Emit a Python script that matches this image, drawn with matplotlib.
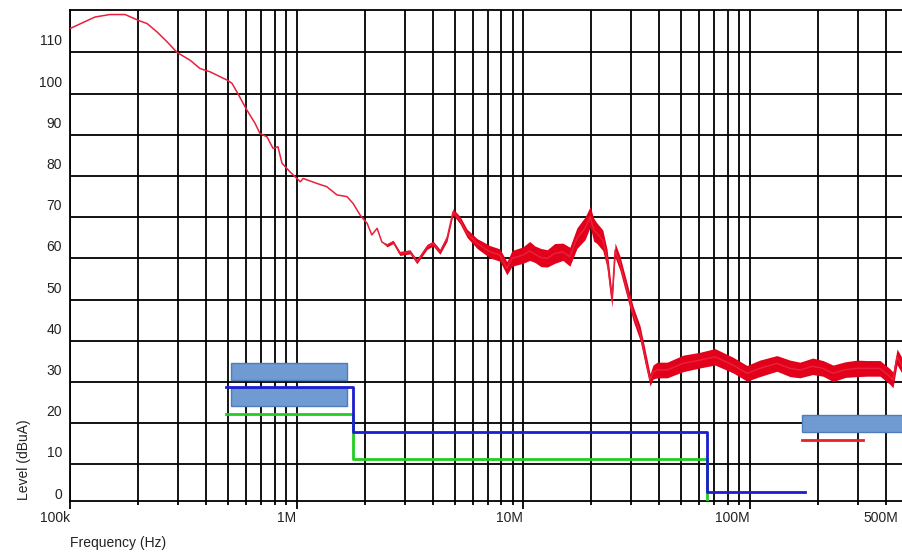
import matplotlib
matplotlib.use('Agg')
import matplotlib.pyplot as plt
from matplotlib import font_manager
from matplotlib.patches import Rectangle
from matplotlib.ticker import FixedLocator, LogLocator, NullFormatter

# measured trace (MHz, dBuA) and the width of the noise band around it (dB)
freq_mhz = [0.100, 0.129, 0.150, 0.175, 0.200, 0.219, 0.242, 0.268, 0.297, 0.339,
            0.375, 0.415, 0.493, 0.519, 0.546, 0.604, 0.656, 0.690, 0.741, 0.788,
            0.828, 0.863, 0.936, 1.04, 1.07, 1.23, 1.36, 1.51, 1.67, 1.78,
            1.91, 2.05, 2.15, 2.27, 2.38, 2.51, 2.67, 2.86, 3.17, 3.40,
            3.77, 4.01, 4.30, 4.62, 4.91, 5.27, 5.66, 6.27, 7.15, 7.91,
            8.49, 8.94, 10.0, 10.7, 11.3, 12.0, 12.8, 13.8, 15.0, 16.1,
            17.3, 18.8, 19.8, 20.5, 21.2, 22.5, 23.5, 24.7, 25.5, 26.8,
            28.8, 30.6, 32.9, 34.6, 36.4, 37.5, 39.1, 43.3, 50.9, 60.4,
            70.4, 84.6, 97.5, 111, 132, 151, 167, 190, 211, 234,
            265, 299, 330, 377, 417, 430, 448, 471]
level_dbua = [115.8, 118.6, 119.2, 119.2, 117.8, 117.0, 115.0, 112.6, 110.0, 108.1,
              106.1, 105.3, 103.3, 102.5, 100.4, 96.0, 92.8, 90.3, 89.5, 86.7,
              87.1, 83.1, 81.0, 78.6, 79.4, 78.2, 77.4, 75.4, 75.0, 73.3,
              70.5, 68.5, 65.7, 67.3, 64.0, 63.2, 64.0, 61.2, 61.6, 59.2,
              62.8, 63.6, 61.6, 64.9, 71.3, 69.3, 66.1, 63.6, 61.6, 60.8,
              57.6, 60.0, 60.8, 61.8, 61.0, 60.2, 60.0, 61.2, 61.6, 60.4,
              64.9, 67.3, 70.1, 67.0, 66.1, 64.4, 60.0, 49.9, 62.0, 58.8,
              52.3, 46.7, 41.8, 36.1, 30.5, 32.4, 32.9, 32.9, 34.5, 35.3,
              36.1, 34.1, 32.1, 33.3, 34.5, 33.3, 32.9, 33.8, 33.3, 32.1,
              33.0, 33.3, 33.3, 33.3, 31.3, 30.5, 36.1, 34.0]
spread_db = [0, 0, 0, 0, 0, 0, 0, 0, 0, 0,
             0, 0, 0, 0, 0, 0, 0, 0, 0, 0,
             0, 0, 0, 0, 0, 0, 0, 0, 0, 0,
             0, 0, 0, 0, 0, 0.8, 0.8, 1.0, 1.0, 1.0,
             1.2, 1.2, 1.2, 1.5, 1.5, 1.8, 2.0, 2.4, 3.0, 3.0,
             3.2, 3.8, 4.0, 4.6, 4.0, 4.4, 4.2, 4.8, 4.2, 4.6,
             5.0, 5.5, 5.0, 5.6, 5.0, 5.0, 4.5, 3.5, 3.5, 3.5,
             3.5, 3.5, 3.5, 3.5, 3.0, 3.4, 3.8, 3.8, 4.0, 3.8,
             4.0, 3.8, 3.8, 4.0, 3.8, 4.0, 3.8, 4.0, 3.8, 4.0,
             3.8, 4.0, 3.8, 3.8, 3.8, 3.8, 3.8, 3.8]

# limit lines
blue_f = [0.49, 1.78, 1.78, 64.7, 64.7, 176]
blue_v = [28.7, 28.7, 17.9, 17.9, 3.2, 3.2]
green_f = [0.49, 1.78, 1.78, 64.7, 64.7]
green_v = [22.1, 22.1, 11.2, 11.2, 0]

# band markers (f start, f stop, level low, level high)
bands = [(0.514, 1.67, 30.5, 34.6),
         (0.514, 1.67, 24.2, 28.5),
         (171, 1000, 17.8, 22.0)]
red_mark_f = [171, 317]
red_mark_v = [15.9, 15.9]

ytick_vals = [0, 10, 20, 30, 40, 50, 60, 70, 80, 90, 100, 110]
xtick_vals = [0.1, 1, 10, 100, 455]
xtick_labels = ['100k', '1M', '10M', '100M', '500M']

names = {f.name for f in font_manager.fontManager.ttflist}
if 'Liberation Sans Narrow' in names:
    font, fs = 'Liberation Sans Narrow', 12
else:
    font, fs = 'Liberation Sans', 10
txt = '#222222'

fig = plt.figure(figsize=(9.02, 5.55), dpi=100)
ax = fig.add_axes([70 / 902, 54 / 555, 906 / 902, 491 / 555])
ax.set_xscale('log')
ax.set_xlim(0.1, 1000)
ax.set_ylim(1.1, 120.3)

ax.xaxis.set_major_locator(LogLocator(base=10))
ax.xaxis.set_minor_locator(LogLocator(base=10, subs=range(2, 10)))
ax.xaxis.set_major_formatter(NullFormatter())
ax.xaxis.set_minor_formatter(NullFormatter())
ax.yaxis.set_major_locator(FixedLocator(ytick_vals[1:]))
ax.yaxis.set_major_formatter(NullFormatter())
ax.tick_params(axis='x', which='major', length=6, width=1.3, color='black')
ax.tick_params(axis='x', which='minor', length=3, width=1.3, color='black')
ax.tick_params(axis='y', length=0)
ax.grid(which='both', color='black', lw=1.3)
ax.set_axisbelow(True)
for s in ax.spines.values():
    s.set_color('black')
    s.set_linewidth(1.3)

lo = [v - s / 2 for v, s in zip(level_dbua, spread_db)]
hi = [v + s / 2 for v, s in zip(level_dbua, spread_db)]
ax.fill_between(freq_mhz, lo, hi, color='#e2001a', lw=0, zorder=3)
ax.plot(freq_mhz, level_dbua, color='#e8203a', lw=1.1, zorder=3)

ax.plot(blue_f, blue_v, color='#1c1cd0', lw=2, zorder=5)
ax.plot(green_f, green_v, color='#22cc22', lw=2, zorder=4)

for f0, f1, v0, v1 in bands:
    ax.add_patch(Rectangle((f0, v0), f1 - f0, v1 - v0, facecolor='#6f9bd2',
                           edgecolor='#4f7dbb', lw=1, zorder=4))
ax.plot(red_mark_f, red_mark_v, color='#e8202a', lw=2, zorder=5)

tr_y = ax.get_yaxis_transform()
for v in ytick_vals:
    ax.annotate(str(v), xy=(0, v), xycoords=tr_y, xytext=(-8, 4),
                textcoords='offset pixels', ha='right', va='bottom',
                fontsize=fs, family=font, color=txt, annotation_clip=False)
tr_x = ax.get_xaxis_transform()
for f, lab in zip(xtick_vals, xtick_labels):
    ax.annotate(lab, xy=(f, 0), xycoords=tr_x, xytext=(0, -10),
                textcoords='offset pixels', ha='right', va='top',
                fontsize=fs, family=font, color=txt, annotation_clip=False)

fig.text(24 / 902, 1 - 500 / 555, 'Level (dBuA)', rotation=90, ha='center',
         va='bottom', fontsize=fs, family=font, color=txt)
fig.text(70 / 902, 1 - 543 / 555, 'Frequency (Hz)', ha='left', va='center',
         fontsize=fs, family=font, color=txt)

fig.savefig('out.png', dpi=100)
